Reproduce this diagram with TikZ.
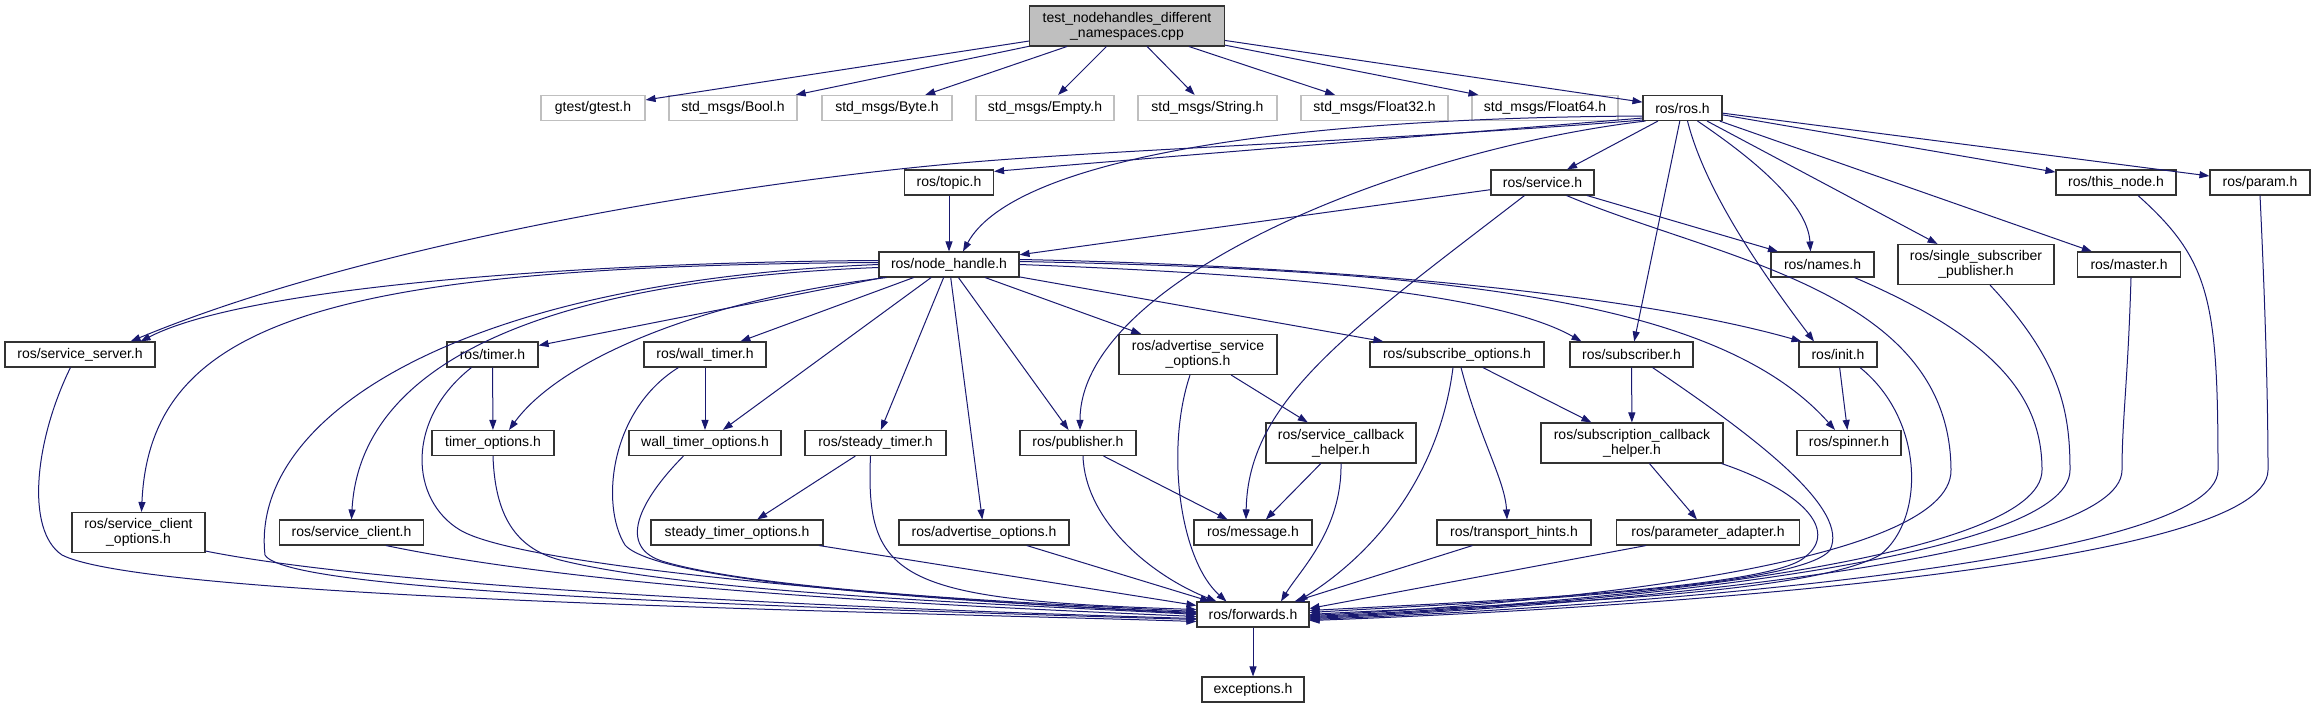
\documentclass[tikz,border=0pt]{standalone}
\usepackage{fontspec}
\setmainfont{Liberation Sans}
\usetikzlibrary{arrows.meta,calc}
\definecolor{midnight}{RGB}{25,25,112}
\definecolor{grayf}{RGB}{191,191,191}
\newcommand\nodefont{\fontsize{14}{15}\selectfont}
\begin{document}
\begin{tikzpicture}[x=1pt,y=-1pt,
  nbox/.style={draw=black!80, line width=1.1pt, fill=white, inner sep=0pt, minimum height=25pt, align=center, font=\nodefont},
  gbox/.style={nbox, draw=grayf},
  dep/.style={draw=midnight, line width=1pt, -{Triangle[length=10pt,width=7pt]}}]
\fill[white] (0,0) rectangle (2315,708);
\useasboundingbox (0,0) rectangle (2315,708);
% nodes
\node[nbox,fill=grayf,minimum width=195pt,minimum height=40pt] (test) at (1127,26) {test\_nodehandles\_different\\\_namespaces.cpp};
\node[gbox,minimum width=104pt] (gtest) at (593,108) {gtest/gtest.h};
\node[gbox,minimum width=128pt] (bool) at (733,108) {std\_msgs/Bool.h};
\node[gbox,minimum width=130pt] (byte) at (887,108) {std\_msgs/Byte.h};
\node[gbox,minimum width=138pt] (empty) at (1045,108) {std\_msgs/Empty.h};
\node[gbox,minimum width=139pt] (string) at (1207.5,108) {std\_msgs/String.h};
\node[gbox,minimum width=147pt] (f32) at (1374.5,108) {std\_msgs/Float32.h};
\node[gbox,minimum width=146pt] (f64) at (1545,108) {std\_msgs/Float64.h};
\node[nbox,minimum width=79pt] (ros) at (1682.5,108) {ros/ros.h};
\node[nbox,minimum width=89pt] (topic) at (949,182.5) {ros/topic.h};
\node[nbox,minimum width=103pt] (service) at (1542.5,182.5) {ros/service.h};
\node[nbox,minimum width=120pt] (thisnode) at (2116,182.5) {ros/this\_node.h};
\node[nbox,minimum width=100pt] (param) at (2260,182.5) {ros/param.h};
\node[nbox,minimum width=140pt] (nh) at (949,264.5) {ros/node\_handle.h};
\node[nbox,minimum width=103pt] (names) at (1822.5,264.5) {ros/names.h};
\node[nbox,minimum width=156pt,minimum height=40pt] (single) at (1976,264.5) {ros/single\_subscriber\\\_publisher.h};
\node[nbox,minimum width=103pt] (master) at (2129,264.5) {ros/master.h};
\node[nbox,minimum width=150pt] (sserver) at (80,354.5) {ros/service\_server.h};
\node[nbox,minimum width=91pt] (timer) at (492.5,354.5) {ros/timer.h};
\node[nbox,minimum width=122pt] (wtimer) at (705,354.5) {ros/wall\_timer.h};
\node[nbox,minimum width=158pt,minimum height=40pt] (aso) at (1198,354.5) {ros/advertise\_service\\\_options.h};
\node[nbox,minimum width=174pt] (subopt) at (1457,354.5) {ros/subscribe\_options.h};
\node[nbox,minimum width=123pt] (subscriber) at (1631.5,354.5) {ros/subscriber.h};
\node[nbox,minimum width=78pt] (init) at (1838,354.5) {ros/init.h};
\node[nbox,minimum width=122pt] (topt) at (493,443) {timer\_options.h};
\node[nbox,minimum width=152pt] (wtopt) at (705,443) {wall\_timer\_options.h};
\node[nbox,minimum width=141pt] (steady) at (875.5,443) {ros/steady\_timer.h};
\node[nbox,minimum width=116pt] (pub) at (1078,443) {ros/publisher.h};
\node[nbox,minimum width=150pt,minimum height=40pt] (sch) at (1341,443) {ros/service\_callback\\\_helper.h};
\node[nbox,minimum width=182pt,minimum height=40pt] (subcb) at (1632,443) {ros/subscription\_callback\\\_helper.h};
\node[nbox,minimum width=104pt] (spinner) at (1849,443) {ros/spinner.h};
\node[nbox,minimum width=133pt,minimum height=40pt] (sco) at (138.5,532.5) {ros/service\_client\\\_options.h};
\node[nbox,minimum width=144pt] (sclient) at (351.5,532.5) {ros/service\_client.h};
\node[nbox,minimum width=172pt] (stopt) at (737,532.5) {steady\_timer\_options.h};
\node[nbox,minimum width=170pt] (adopt) at (984,532.5) {ros/advertise\_options.h};
\node[nbox,minimum width=118pt] (msg) at (1253,532.5) {ros/message.h};
\node[nbox,minimum width=154pt] (thints) at (1514,532.5) {ros/transport\_hints.h};
\node[nbox,minimum width=183pt] (padapt) at (1708,532.5) {ros/parameter\_adapter.h};
\node[nbox,minimum width=112pt] (fw) at (1253,614.5) {ros/forwards.h};
\node[nbox,minimum width=102pt] (exc) at (1253,689.5) {exceptions.h};
% top edges
\draw[dep] (test) -- (gtest);
\draw[dep] (test) -- (bool);
\draw[dep] (test) -- (byte);
\draw[dep] (test) -- (empty);
\draw[dep] (test) -- (string);
\draw[dep] (test) -- (f32);
\draw[dep] (test) -- (f64);
\draw[dep] (test) -- (ros);
% ros.h
\draw[dep] ($(ros.south west)+(0,-3)$) .. controls (1400,138) and (1150,158) .. ($(topic.north east)+(0,2)$);
\draw[dep] ($(ros.south west)+(0,-1)$) .. controls (1400,140) and (1100,150) .. (950,164) .. controls (700,187) and (350,250) .. ($(sserver.north east)+(-25,0)$);
\draw[dep] ($(ros.south west)+(0,-5)$) .. controls (1250,118) and (1010,165) .. ($(nh.north)+(14,0)$);
\draw[dep] ($(ros.south west)+(3,0)$) .. controls (1400,150) and (1080,280) .. ($(pub.north)+(2,0)$);
\draw[dep] (ros) -- (service);
\draw[dep] (ros) -- (subscriber);
\draw[dep] ($(ros.south)+(5,0)$) .. controls (1705,190) and (1760,270) .. ($(init.north)+(-24,0)$);
\draw[dep] ($(ros.south)+(15,0)$) .. controls (1770,170) and (1808,210) .. ($(names.north)+(-12,0)$);
\draw[dep] (ros) -- (single);
\draw[dep] (ros) -- (master);
\draw[dep] (ros) -- (thisnode);
\draw[dep] (ros) -- (param);
% service.h
\draw[dep] (service) -- (nh);
\draw[dep] (service) -- (names);
\draw[dep] ($(service.south)+(-18,0)$) .. controls (1350,330) and (1248,400) .. ($(msg.north)+(-7,0)$);
\draw[dep] ($(service.south east)+(-28,0)$) .. controls (1720,260) and (1950,290) .. (1951,470) .. controls (1952,565) and (1550,604) .. ($(fw.east)+(0,1)$);
% node_handle.h
\draw[dep] (topic) -- (nh);
\draw[dep] ($(nh.west)+(0,-4)$) .. controls (600,262) and (250,285) .. ($(sserver.north east)+(-15,0)$);
\draw[dep] ($(nh.west)+(0,-2)$) .. controls (330,266) and (150,320) .. ($(sco.north)+(3,0)$);
\draw[dep] ($(nh.west)+(0,3)$) .. controls (550,280) and (360,360) .. (sclient.north);
\draw[dep] (nh.west) .. controls (450,282) and (250,420) .. (265,555) .. controls (285,590) and (700,605) .. ($(fw.west)+(0,5)$);
\draw[dep] (nh) -- (timer);
\draw[dep] (nh) -- (wtimer);
\draw[dep] ($(nh.south west)+(8,0)$) .. controls (700,300) and (560,360) .. ($(topt.north)+(16,0)$);
\draw[dep] (nh) -- (wtopt);
\draw[dep] (nh) -- (steady);
\draw[dep] (nh) -- (adopt);
\draw[dep] (nh) -- (pub);
\draw[dep] (nh) -- (aso);
\draw[dep] (nh) -- (subopt);
\draw[dep] (nh.east) .. controls (1300,275) and (1500,295) .. ($(subscriber.north)+(-50,0)$);
\draw[dep] ($(nh.east)+(0,-5)$) .. controls (1300,265) and (1620,290) .. ($(init.north west)+(3,0)$);
\draw[dep] ($(nh.east)+(0,-3)$) .. controls (1450,270) and (1720,300) .. ($(spinner.north)+(-14,0)$);
% timers and left side
\draw[dep] (timer) -- (topt);
\draw[dep] ($(timer.south west)+(25,0)$) .. controls (405,420) and (410,500) .. (460,530) .. controls (530,572) and (1000,604) .. ($(fw.west)+(0,-1)$);
\draw[dep] (wtimer) -- (wtopt);
\draw[dep] ($(wtimer.south west)+(35,0)$) .. controls (610,410) and (600,505) .. (625,545) .. controls (660,585) and (1000,604) .. ($(fw.west)+(0,-2)$);
\draw[dep] (topt.south) .. controls (495,515) and (515,548) .. (560,560) .. controls (700,595) and (1050,606) .. (fw.west);
\draw[dep] ($(wtopt.south west)+(55,0)$) .. controls (640,500) and (615,548) .. (665,562) .. controls (770,592) and (1050,604) .. ($(fw.west)+(0,-3)$);
\draw[dep] (steady) -- (stopt);
\draw[dep] ($(steady.south)+(-5,0)$) .. controls (865,580) and (900,600) .. ($(fw.west)+(0,-5)$);
\draw[dep] ($(sserver.south west)+(66,0)$) .. controls (35,440) and (25,530) .. (62,555) .. controls (150,600) and (900,612) .. ($(fw.west)+(0,7)$);
\draw[dep] ($(sco.south east)+(0,-2)$) .. controls (400,590) and (900,610) .. ($(fw.west)+(0,4)$);
\draw[dep] ($(sclient.south east)+(-38,0)$) .. controls (600,590) and (950,606) .. ($(fw.west)+(0,2)$);
\draw[dep] (stopt) -- (fw);
\draw[dep] (adopt) -- (fw);
% middle
\draw[dep] (pub) -- (msg);
\draw[dep] ($(pub.south)+(5,0)$) .. controls (1085,520) and (1150,575) .. ($(fw.north west)+(20,0)$);
\draw[dep] (aso) -- (sch);
\draw[dep] ($(aso.south)+(-8,0)$) .. controls (1165,450) and (1180,560) .. ($(fw.north west)+(30,0)$);
\draw[dep] (sch) -- (msg);
\draw[dep] (sch.south) .. controls (1342,530) and (1300,570) .. ($(fw.north)+(28,0)$);
\draw[dep] (subopt) -- (subcb);
\draw[dep] ($(subopt.south)+(4,0)$) .. controls (1480,440) and (1505,480) .. ($(thints.north)+(-7,0)$);
\draw[dep] ($(subopt.south)+(-4,0)$) .. controls (1440,470) and (1380,550) .. ($(fw.north east)+(-12,0)$);
\draw[dep] (thints) -- (fw);
\draw[dep] ($(padapt.south west)+(30,0)$) -- ($(fw.east)+(0,-6)$);
% right side
\draw[dep] (subscriber) -- (subcb);
\draw[dep] ($(subscriber.south)+(21,0)$) .. controls (1760,440) and (1850,510) .. (1830,550) .. controls (1800,590) and (1450,604) .. ($(fw.east)+(0,-2)$);
\draw[dep] (subcb) -- (padapt);
\draw[dep] ($(subcb.south east)+(-2,0)$) .. controls (1800,490) and (1840,530) .. (1805,557) .. controls (1770,590) and (1450,603) .. ($(fw.east)+(0,-4)$);
\draw[dep] (init) -- (spinner);
\draw[dep] ($(init.south)+(22,0)$) .. controls (1925,420) and (1925,520) .. (1880,555) .. controls (1800,600) and (1450,606) .. (fw.east);
\draw[dep] ($(names.south)+(32,0)$) .. controls (2000,340) and (2042,400) .. (2042,470) .. controls (2042,560) and (1600,604) .. ($(fw.east)+(0,2)$);
\draw[dep] ($(single.south)+(14,0)$) .. controls (2060,360) and (2070,410) .. (2070,470) .. controls (2070,560) and (1600,605) .. ($(fw.east)+(0,3)$);
\draw[dep] ($(master.south)+(2,0)$) .. controls (2128,380) and (2122,420) .. (2122,470) .. controls (2122,560) and (1600,606) .. ($(fw.east)+(0,4)$);
\draw[dep] ($(thisnode.south)+(22,0)$) .. controls (2210,260) and (2218,300) .. (2218,470) .. controls (2218,565) and (1600,608) .. ($(fw.east)+(0,5)$);
\draw[dep] (param.south) .. controls (2265,300) and (2268,400) .. (2268,470) .. controls (2268,570) and (1600,610) .. ($(fw.east)+(0,6)$);
\draw[dep] (fw) -- (exc);
\end{tikzpicture}
\end{document}
